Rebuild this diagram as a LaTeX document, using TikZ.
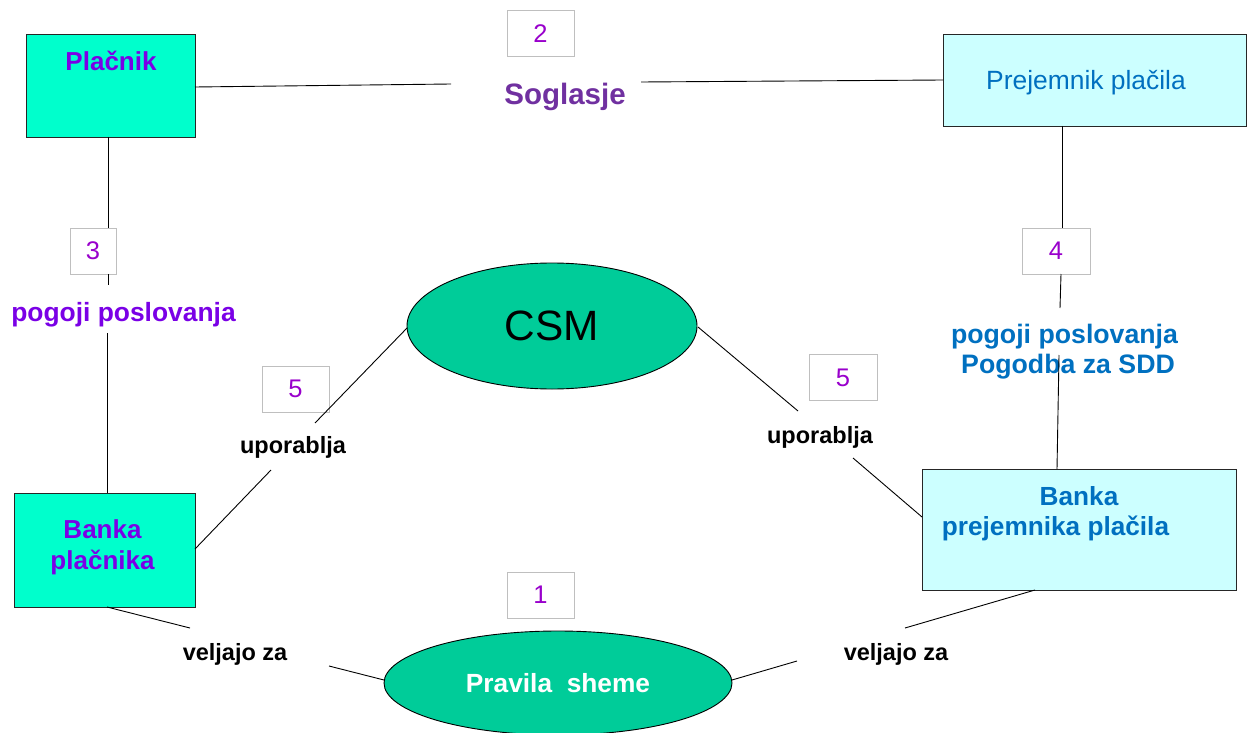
\documentclass[tikz,border=0pt]{standalone}
\usepackage{fontspec}
\setmainfont{Liberation Sans}
\usetikzlibrary{shapes.geometric}
\definecolor{aquabox}{HTML}{00FFCC}
\definecolor{paleblue}{HTML}{CCFFFF}
\definecolor{ellgreen}{HTML}{00CC99}
\definecolor{violettxt}{HTML}{7A00E6}
\definecolor{numtxt}{HTML}{9900CC}
\definecolor{soglas}{HTML}{7030A0}
\definecolor{bluetxt}{HTML}{0070C0}
\definecolor{numframe}{HTML}{BFBFBF}
\tikzset{
  mainbox/.style={draw=black!85, line width=1.2pt, inner sep=0pt, anchor=north west},
  numbox/.style={draw=numframe, line width=1pt, fill=white, inner sep=0pt, minimum height=46pt, text=numtxt, font=\fontsize{25.5}{30}\selectfont},
  oval/.style={ellipse, draw=black, line width=0.9pt, fill=ellgreen, inner sep=0pt},
  conn/.style={draw=black, line width=0.9pt},
  lbl/.style={font=\bfseries\fontsize{23.5}{28}\selectfont, text=black, inner sep=0pt},
  vtxt/.style={font=\bfseries\fontsize{26}{30}\selectfont, text=violettxt, inner sep=0pt},
  btxt/.style={font=\bfseries\fontsize{26.2}{30}\selectfont, text=bluetxt, inner sep=0pt}
}
\begin{document}
\begin{tikzpicture}[x=1pt, y=-1pt]
\useasboundingbox (0,0) rectangle (1247,733);
% boxes
\node[mainbox, fill=aquabox, minimum width=169pt, minimum height=103pt] (plac) at (26,34) {};
\node[mainbox, fill=paleblue, minimum width=303pt, minimum height=92pt] (prej) at (943,34) {};
\node[mainbox, fill=aquabox, minimum width=181pt, minimum height=114pt] (bplac) at (14,493) {};
\node[mainbox, fill=paleblue, minimum width=314pt, minimum height=121pt] (bprej) at (922,469) {};
% box texts
\node[vtxt] (plac-t) at (111,61) {Plačnik};
\node[font=\fontsize{26.4}{30}\selectfont, text=bluetxt, inner sep=0pt] (prej-t) at (1086,83) {Prejemnik plačila};
\node[vtxt] (bplac-t1) at (102.5,529) {Banka};
\node[vtxt] (bplac-t2) at (102.5,562) {plačnika};
\node[btxt] (bprej-t1) at (1079,496) {Banka};
\node[btxt] (bprej-t2) at (1055.5,528) {prejemnika plačila};
% ellipses
\node[oval, minimum width=290pt, minimum height=126pt, font=\fontsize{42.4}{48}\selectfont] (csm) at (552,326) {CSM};
\node[oval, minimum width=348pt, minimum height=104pt, font=\bfseries\fontsize{26.3}{30}\selectfont, text=white] (prav) at (558,683) {Pravila\ \ sheme};
% number boxes
\node[numbox, minimum width=67pt] (n2) at (540.5,34) {2};
\node[numbox, minimum width=46pt] (n3) at (93,251) {3};
\node[numbox, minimum width=68pt] (n4) at (1056,251) {4};
\node[numbox, minimum width=67pt] (n5l) at (295.5,389) {5};
\node[numbox, minimum width=68pt] (n5r) at (843,377.5) {5};
\node[numbox, minimum width=67pt] (n1) at (540.5,595) {1};
% labels
\node[font=\bfseries\fontsize{29.5}{34}\selectfont, text=soglas, inner sep=0pt] (sog) at (565,97) {Soglasje};
\node[vtxt, font=\bfseries\fontsize{26.4}{30}\selectfont] (pp-l) at (123.5,315) {pogoji poslovanja};
\node[btxt, font=\bfseries\fontsize{26.7}{30}\selectfont] (pp-r1) at (1064.5,337) {pogoji poslovanja};
\node[btxt, font=\bfseries\fontsize{26.7}{30}\selectfont] (pp-r2) at (1068,367) {Pogodba za SDD};
\node[lbl] (up-l) at (293,447) {uporablja};
\node[lbl] (up-r) at (820,437) {uporablja};
\node[lbl] (vz-l) at (235,654) {veljajo za};
\node[lbl] (vz-r) at (896,654) {veljajo za};
% connector end points
\coordinate (a1) at (195,87);
\coordinate (a2) at (451,84);
\coordinate (a3) at (641,82);
\coordinate (a4) at (943,80);
\coordinate (b1) at (108,137);
\coordinate (b2) at (108,228);
\coordinate (b3) at (108,274);
\coordinate (b4) at (108,285);
\coordinate (b5) at (107,333);
\coordinate (b6) at (107,493);
\coordinate (c1) at (1062,126);
\coordinate (c2) at (1062,228);
\coordinate (c3) at (1061,274);
\coordinate (c4) at (1060,308);
\coordinate (c5) at (1059,355);
\coordinate (c6) at (1057,469);
\coordinate (d1) at (407,328);
\coordinate (d2) at (315,423);
\coordinate (d3) at (271,470);
\coordinate (d4) at (195,549);
\coordinate (e1) at (698,327);
\coordinate (e2) at (798,411);
\coordinate (e3) at (853,458);
\coordinate (e4) at (922,517);
\coordinate (f1) at (107,607);
\coordinate (f2) at (190,628);
\coordinate (f3) at (329,666);
\coordinate (f4) at (384,680);
\coordinate (g1) at (1035,590);
\coordinate (g2) at (905,628);
\coordinate (g3) at (797,661);
\coordinate (g4) at (732,680);
% connectors
\draw[conn] (a1) -- (a2);
\draw[conn] (a3) -- (a4);
\draw[conn] (b1) -- (b2);
\draw[conn] (b3) -- (b4);
\draw[conn] (b5) -- (b6);
\draw[conn] (c1) -- (c2);
\draw[conn] (c3) -- (c4);
\draw[conn] (c5) -- (c6);
\draw[conn] (d1) -- (d2);
\draw[conn] (d3) -- (d4);
\draw[conn] (e1) -- (e2);
\draw[conn] (e3) -- (e4);
\draw[conn] (f1) -- (f2);
\draw[conn] (f3) -- (f4);
\draw[conn] (g1) -- (g2);
\draw[conn] (g3) -- (g4);
\end{tikzpicture}
\end{document}
